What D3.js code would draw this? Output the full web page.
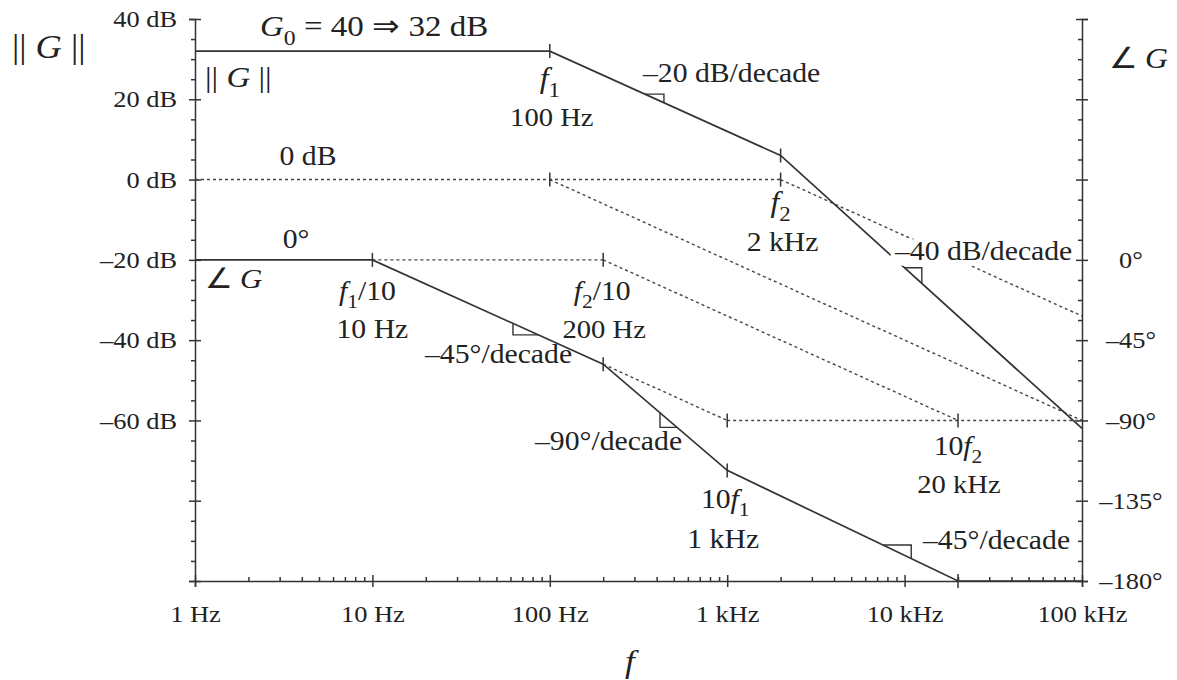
<!DOCTYPE html>
<html>
<head>
<meta charset="utf-8">
<script src="https://cdn.jsdelivr.net/npm/d3@7"></script>
<style>
  html, body { margin: 0; background: #fff; }
  svg { display: block; }
  text { font-family: "Liberation Serif", "Times New Roman", serif; fill: #222; }
</style>
</head>
<body>
<svg id="chart" width="1177" height="680"></svg>
<script>
// Frequency axis (Hz)
const freqTicks = [1, 10, 100, 1e3, 1e4, 1e5];
const freqLabels = ["1 Hz", "10 Hz", "100 Hz", "1 kHz", "10 kHz", "100 kHz"];
// Magnitude axis (dB)
const dbTicks = [40, 20, 0, -20, -40, -60, -80, -100];
const dbLabels = ["40 dB", "20 dB", "0 dB", "–20 dB", "–40 dB", "–60 dB", "", ""];
// Phase axis (degrees)
const phaseTicks = [135, 90, 45, 0, -45, -90, -135, -180];
const phaseLabels = ["", "", "", "0°", "–45°", "–90°", "–135°", "–180°"];

// Asymptotic magnitude ||G|| in dB at its corner frequencies
const magFreq = [1, 100, 2000, 1e5];
const magDb = [32, 32, 6, -62];
// Asymptotic phase of G in degrees
const phaseFreq = [1, 10, 200, 1000, 20000, 1e5];
const phaseDeg = [0, 0, -58.5, -118, -180, -180];

// Dotted construction lines, [frequency, value] end points
const magGuides = [
  [[1, 0], [2000, 0]],
  [[100, 0], [1e5, -60]],
  [[2000, 0], [1e5, -34]]
];
const phaseGuides = [
  [[10, 0], [200, 0]],
  [[200, 0], [20000, -90]],
  [[200, -58.5], [1000, -90]],
  [[1000, -90], [1e5, -90]]
];
// Short vertical marks at the break frequencies
const magMarks = [[100, 32], [2000, 6], [100, 0], [2000, 0]];
const phaseMarks = [[10, 0], [200, -58.5], [1000, -118], [20000, -180], [200, 0], [1000, -90], [20000, -90]];
// Right-angle slope markers sitting on the curves
const slopeMarks = [
  { curve: "mag", f1: 344, f2: 440, side: "above" },
  { curve: "mag", f1: 10000, f2: 12500, side: "above" },
  { curve: "phase", f1: 62, f2: 86, side: "below" },
  { curve: "phase", f1: 418, f2: 521, side: "below" },
  { curve: "phase", f1: 7550, f2: 10900, side: "above" }
];

const INK = "#333";
const SX = 1.1;       // horizontal stretch applied to all lettering
const TICK_PX = 24;

const svg = d3.select("#chart");

const x = d3.scaleLog().domain([1, 1e5]).range([195, 1082]);
const yDb = d3.scaleLinear().domain([40, -100]).range([19, 581]);
const yPh = d3.scaleLinear().domain([135, -180]).range([19, 581]);

const minorFreq = [];
for (let d = 1; d < 1e5; d *= 10) for (let k = 2; k <= 9; k++) minorFreq.push(d * k);
const minorDb = d3.range(40, -100.1, -5).filter(v => v % 20 !== 0);
const minorPh = d3.range(135, -180.1, -11.25).filter(v => Math.abs(v % 45) > 1e-6);

function styleAxis(g) {
  g.selectAll("path, line").attr("stroke", INK).attr("stroke-width", 1.5);
  g.selectAll("text").style("font-size", TICK_PX + "px").attr("fill", "#222")
    .style("font-family", '"Liberation Serif", serif');
}

// ---- axes ----
const bottom = svg.append("g").attr("transform", `translate(0,${yDb(-100)})`)
  .call(d3.axisBottom(x).tickValues(freqTicks).tickFormat((d, i) => freqLabels[i]).tickSizeOuter(0).tickSize(6));
styleAxis(bottom);
bottom.selectAll(".tick line").attr("y1", -6).attr("y2", 6);
bottom.selectAll(".tick text").attr("y", 24).attr("transform", `scale(${SX},1)`);

svg.append("g").attr("transform", `translate(0,${yDb(-100)})`)
  .call(d3.axisTop(x).tickValues(minorFreq).tickFormat("").tickSize(4).tickSizeOuter(0))
  .call(g => g.select(".domain").remove())
  .call(styleAxis);

const left = svg.append("g").attr("transform", `translate(${x(1)},0)`)
  .call(d3.axisLeft(yDb).tickValues(dbTicks).tickFormat((d, i) => dbLabels[i]).tickSizeOuter(0).tickSize(6));
styleAxis(left);
left.selectAll(".tick line").attr("x1", 6).attr("x2", -6);
left.selectAll(".tick text").attr("x", -18 / SX).attr("transform", `scale(${SX},1)`);

svg.append("g").attr("transform", `translate(${x(1)},0)`)
  .call(d3.axisLeft(yDb).tickValues(minorDb).tickFormat("").tickSize(4).tickSizeOuter(0))
  .call(g => g.select(".domain").remove())
  .call(styleAxis);

const right = svg.append("g").attr("transform", `translate(${x(1e5)},0)`)
  .call(d3.axisRight(yPh).tickValues(phaseTicks).tickFormat((d, i) => phaseLabels[i]).tickSizeOuter(0).tickSize(6));
styleAxis(right);
right.selectAll(".tick line").attr("x1", -6).attr("x2", 6);
right.selectAll(".tick text").attr("text-anchor", "middle").attr("x", 49 / SX).attr("transform", `scale(${SX},1)`);

svg.append("g").attr("transform", `translate(${x(1e5)},0)`)
  .call(d3.axisLeft(yPh).tickValues(minorPh).tickFormat("").tickSize(4).tickSizeOuter(0))
  .call(g => g.select(".domain").remove())
  .call(styleAxis);

// ---- curves ----
const lineDb = d3.line().x(d => x(d[0])).y(d => yDb(d[1]));
const linePh = d3.line().x(d => x(d[0])).y(d => yPh(d[1]));

const dotted = svg.append("g").attr("fill", "none").attr("stroke", "#444")
  .attr("stroke-width", 1.4).attr("stroke-dasharray", "3,3");
magGuides.forEach(s => dotted.append("path").attr("d", lineDb(s)));
phaseGuides.forEach(s => dotted.append("path").attr("d", linePh(s)));

svg.append("path").attr("fill", "none").attr("stroke", INK).attr("stroke-width", 1.7)
  .attr("d", lineDb(magFreq.map((f, i) => [f, magDb[i]])));
svg.append("path").attr("fill", "none").attr("stroke", INK).attr("stroke-width", 1.7)
  .attr("d", linePh(phaseFreq.map((f, i) => [f, phaseDeg[i]])));

const marks = svg.append("g").attr("stroke", INK).attr("stroke-width", 1.5);
magMarks.forEach(([f, v]) => marks.append("line")
  .attr("x1", x(f)).attr("x2", x(f)).attr("y1", yDb(v) - 7).attr("y2", yDb(v) + 7));
phaseMarks.forEach(([f, v]) => marks.append("line")
  .attr("x1", x(f)).attr("x2", x(f)).attr("y1", yPh(v) - 7).attr("y2", yPh(v) + 7));

function valueAt(fs, vs, f) {
  const lf = Math.log10(f);
  for (let i = 0; i < fs.length - 1; i++) {
    const a = Math.log10(fs[i]), b = Math.log10(fs[i + 1]);
    if (lf >= a && lf <= b) return vs[i] + (vs[i + 1] - vs[i]) * (lf - a) / (b - a);
  }
  return vs[vs.length - 1];
}
slopeMarks.forEach(m => {
  const isMag = m.curve === "mag";
  const fs = isMag ? magFreq : phaseFreq, vs = isMag ? magDb : phaseDeg, y = isMag ? yDb : yPh;
  const p1 = [x(m.f1), y(valueAt(fs, vs, m.f1))];
  const p2 = [x(m.f2), y(valueAt(fs, vs, m.f2))];
  const corner = m.side === "above" ? [p2[0], p1[1]] : [p1[0], p2[1]];
  svg.append("path").attr("fill", "none").attr("stroke", INK).attr("stroke-width", 1.4)
    .attr("d", d3.line()([p1, corner, p2]));
});

// ---- text ----
function label(px, py, parts, opt = {}) {
  const size = opt.size || 27;
  const g = svg.append("g").attr("transform", `translate(${px},${py}) scale(${SX},1)`);
  const t = g.append("text").attr("text-anchor", opt.anchor || "start").style("font-size", size + "px");
  let lowered = false;
  parts.forEach(p => {
    const s = typeof p === "string" ? { t: p } : p;
    const ts = t.append("tspan").text(s.t);
    if (s.i) ts.style("font-style", "italic");
    if (s.sub) {
      ts.attr("dy", size * 0.3).style("font-size", (size * 0.72) + "px");
      lowered = true;
    } else if (lowered) {
      ts.attr("dy", -size * 0.3);
      lowered = false;
    }
  });
  if (opt.knockout) {
    const b = t.node().getBBox();
    g.insert("rect", "text").attr("x", b.x - 3).attr("y", b.y + 3)
      .attr("width", b.width + 5).attr("height", b.height - 3).attr("fill", "#fff");
  }
  return g;
}
const it = s => ({ t: s, i: true });
const sub = s => ({ t: s, sub: true });

label(12, 58, ["|| ", it("G"), " ||"], { size: 33 });
label(1168, 68, ["∠ ", it("G")], { size: 29, anchor: "end" });
label(260, 36, [it("G"), sub("0"), " = 40 ⇒ 32 dB"], { size: 30 });
label(205, 87, ["|| ", it("G"), " ||"], { size: 30 });

label(x(100), 88, [it("f"), sub("1")], { anchor: "middle", size: 29 });
label(x(100) + 2, 126, ["100 Hz"], { anchor: "middle", size: 26 });
label(643, 82, ["–20 dB/decade"]);
label(308, 165, ["0 dB"], { anchor: "middle" });
label(x(2000), 212, [it("f"), sub("2")], { anchor: "middle", size: 29 });
label(x(2000) + 2, 251, ["2 kHz"], { anchor: "middle" });
label(895, 260, ["–40 dB/decade"], { knockout: true });

label(296, 248, ["0°"], { anchor: "middle" });
label(205, 288, ["∠ ", it("G")], { size: 28 });
label(x(10) - 5, 300, [it("f"), sub("1"), "/10"], { anchor: "middle" });
label(x(10), 338, ["10 Hz"], { anchor: "middle" });
label(x(200) - 1, 300, [it("f"), sub("2"), "/10"], { anchor: "middle" });
label(x(200) + 1, 338, ["200 Hz"], { anchor: "middle", size: 26 });
label(425, 363, ["–45°/decade"]);
label(535, 450, ["–90°/decade"]);
label(x(1000) - 2, 508, ["10", it("f"), sub("1")], { anchor: "middle" });
label(x(1000) - 4, 548, ["1 kHz"], { anchor: "middle" });
label(x(20000), 455, ["10", it("f"), sub("2")], { anchor: "middle" });
label(x(20000) + 1, 493, ["20 kHz"], { anchor: "middle", size: 26 });
label(923, 549, ["–45°/decade"]);

label(630, 672, [it("f")], { anchor: "middle", size: 32 });
</script>
</body>
</html>
